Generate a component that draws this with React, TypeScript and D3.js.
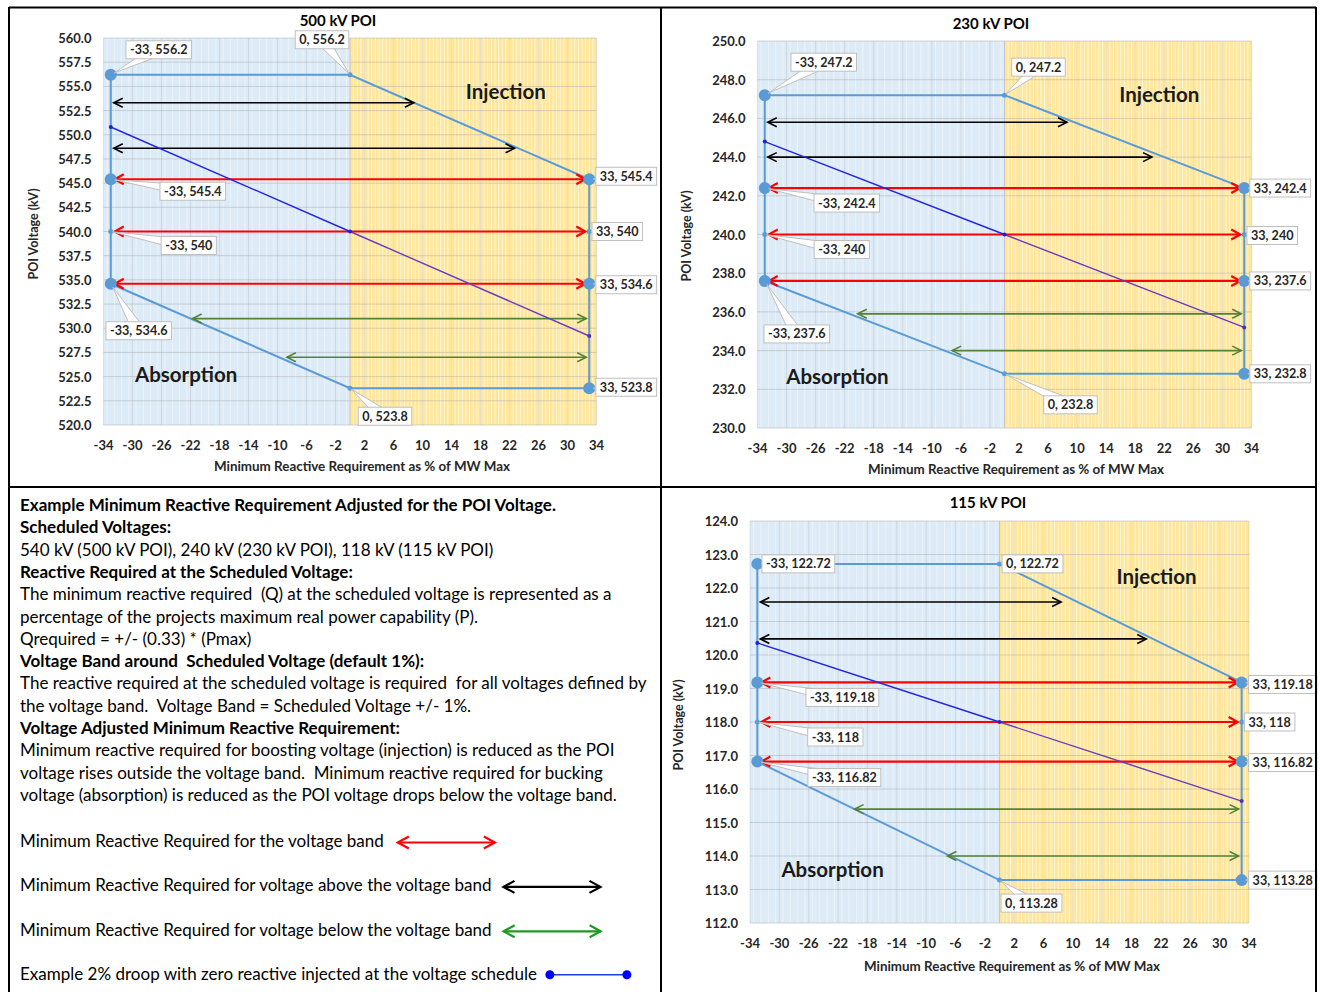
import React, { useEffect, useRef } from 'react';
import * as d3 from 'd3';

const W = 1320;
const H = 992;
const FONT = 'Lato, "Open Sans", sans-serif';

// shared x axis (Q as % of MW max)
const qTicks = [-34, -30, -26, -22, -18, -14, -10, -6, -2, 2, 6, 10, 14, 18, 22, 26, 30, 34];

// ---- 500 kV POI ----
const v500Ticks = [520, 522.5, 525, 527.5, 530, 532.5, 535, 537.5, 540, 542.5, 545, 547.5, 550, 552.5, 555, 557.5, 560];
const env500: [number, number][] = [[-33, 556.2], [0, 556.2], [33, 545.4], [33, 523.8], [0, 523.8], [-33, 534.6], [-33, 556.2]];
const pts500: [number, number][] = [[-33, 556.2], [0, 556.2], [-33, 545.4], [-33, 540], [-33, 534.6], [33, 545.4], [33, 540], [33, 534.6], [33, 523.8], [0, 523.8]];
const band500 = [545.4, 540, 534.6];
const above500: [number, number][] = [[553.3, 8.8], [548.6, 22.7]];
const below500: [number, number][] = [[531.0, -21.7], [527.0, -8.7]];
const droop500: [number, number][] = [[-33, 550.8], [0, 540], [33, 529.2]];

// ---- 230 kV POI ----
const v230Ticks = [230, 232, 234, 236, 238, 240, 242, 244, 246, 248, 250];
const env230: [number, number][] = [[-33, 247.2], [0, 247.2], [33, 242.4], [33, 232.8], [0, 232.8], [-33, 237.6], [-33, 247.2]];
const pts230: [number, number][] = [[-33, 247.2], [0, 247.2], [-33, 242.4], [-33, 240], [-33, 237.6], [33, 242.4], [33, 240], [33, 237.6], [33, 232.8], [0, 232.8]];
const band230 = [242.4, 240, 237.6];
const above230: [number, number][] = [[245.8, 8.6], [244.0, 20.3]];
const below230: [number, number][] = [[235.9, -20.2], [234.0, -7.2]];
const droop230: [number, number][] = [[-33, 244.8], [0, 240], [33, 235.2]];

// ---- 115 kV POI ----
const v115Ticks = [112, 113, 114, 115, 116, 117, 118, 119, 120, 121, 122, 123, 124];
const env115: [number, number][] = [[-33, 122.72], [0, 122.72], [33, 119.18], [33, 113.28], [0, 113.28], [-33, 116.82], [-33, 122.72]];
const pts115: [number, number][] = [[-33, 122.72], [0, 122.72], [-33, 119.18], [-33, 118], [-33, 116.82], [33, 119.18], [33, 118], [33, 116.82], [33, 113.28], [0, 113.28]];
const band115 = [119.18, 118, 116.82];
const above115: [number, number][] = [[121.58, 8.4], [120.48, 20.0]];
const below115: [number, number][] = [[115.4, -19.75], [114.0, -7.1]];
const droop115: [number, number][] = [[-33, 120.36], [0, 118], [33, 115.64]];

const notes: [string, boolean][] = [
  ['Example Minimum Reactive Requirement Adjusted for the POI Voltage.', true],
  ['Scheduled Voltages:', true],
  ['540 kV (500 kV POI), 240 kV (230 kV POI), 118 kV (115 kV POI)', false],
  ['Reactive Required at the Scheduled Voltage:', true],
  ['The minimum reactive required  (Q) at the scheduled voltage is represented as a', false],
  ['percentage of the projects maximum real power capability (P).', false],
  ['Qrequired = +/- (0.33) * (Pmax)', false],
  ['Voltage Band around  Scheduled Voltage (default 1%):', true],
  ['The reactive required at the scheduled voltage is required  for all voltages defined by', false],
  ['the voltage band.  Voltage Band = Scheduled Voltage +/- 1%.', false],
  ['Voltage Adjusted Minimum Reactive Requirement:', true],
  ['Minimum reactive required for boosting voltage (injection) is reduced as the POI', false],
  ['voltage rises outside the voltage band.  Minimum reactive required for bucking', false],
  ['voltage (absorption) is reduced as the POI voltage drops below the voltage band.', false],
];

const legendItems = [
  { text: 'Minimum Reactive Required for the voltage band', kind: 'band' },
  { text: 'Minimum Reactive Required for voltage above the voltage band', kind: 'above' },
  { text: 'Minimum Reactive Required for voltage below the voltage band', kind: 'below' },
  { text: 'Example 2% droop with zero reactive injected at the voltage schedule', kind: 'droop' },
];

// layout of each panel (pixels) + annotation anchors
const charts = [
  {
    title: '500 kV POI', sched: 540, ticks: v500Ticks, env: env500, pts: pts500, band: band500, above: above500, below: below500, droop: droop500,
    px: [103.5, 596.5], py: [425, 38], titleAt: [338, 20], yTitleAt: [33, 234], xTitleAt: [362, 466],
    inj: [21.5, 554.5], abs: [-22.6, 525.3],
    callouts: [[48, -25], [-28, -35], [82, 12], [78, 14], [28, 47], [37, -3], [28, 0], [37, 1], [37, -1], [35, 28]],
  },
  {
    title: '230 kV POI', sched: 240, ticks: v230Ticks, env: env230, pts: pts230, band: band230, above: above230, below: below230, droop: droop230,
    px: [757.5, 1251.5], py: [428, 41], titleAt: [991, 23], yTitleAt: [686, 236], xTitleAt: [1016, 469],
    inj: [21.3, 247.26], abs: [-23, 232.7],
    callouts: [[59, -33], [34, -28], [82, 15], [77, 15], [32, 53], [36, 0], [28, 1], [36, 0], [36, 0], [66, 31]],
  },
  {
    title: '115 kV POI', sched: 118, ticks: v115Ticks, env: env115, pts: pts115, band: band115, above: above115, below: below115, droop: droop115,
    px: [750, 1249], py: [923, 521], titleAt: [988, 502], yTitleAt: [678, 725], xTitleAt: [1012, 966],
    inj: [21.4, 122.36], abs: [-22.75, 113.6],
    callouts: [[41, 0], [33, 0], [85, 15], [78, 15], [87, 16], [41, 2], [28, 0], [41, 1], [41, 0], [32, 23]],
  },
];

function arrow(g: any, xa: number, xb: number, yv: number, color: string, sw: number, headA: boolean, headB: boolean, len: number, half: number) {
  g.append('line').attr('x1', xa).attr('x2', xb).attr('y1', yv).attr('y2', yv)
    .attr('stroke', color).attr('stroke-width', sw);
  const head = (tx: number, dir: number) => g.append('path')
    .attr('d', `M${tx + dir * len},${yv - half}L${tx},${yv}L${tx + dir * len},${yv + half}`)
    .attr('fill', 'none').attr('stroke', color).attr('stroke-width', sw);
  if (headA) head(xa, 1);
  if (headB) head(xb, -1);
}

function drawChart(svg: any, c: any) {
  const x = d3.scaleLinear().domain([-34, 34]).range(c.px);
  const y = d3.scaleLinear().domain([c.ticks[0], c.ticks[c.ticks.length - 1]]).range(c.py);
  const g = svg.append('g');
  const [x0, x1] = c.px;
  const top = c.py[1], bot = c.py[0];

  // shaded regions
  g.append('rect').attr('x', x0).attr('y', top).attr('width', x(0) - x0).attr('height', bot - top).attr('fill', '#DDEBF7');
  g.append('rect').attr('x', x(0)).attr('y', top).attr('width', x1 - x(0)).attr('height', bot - top).attr('fill', '#FFE699');

  g.selectAll('.sb').data(d3.range(-33.5, 0, 1)).enter().append('line')
    .attr('x1', (d: number) => x(d)).attr('x2', (d: number) => x(d)).attr('y1', top).attr('y2', bot)
    .attr('stroke', '#fff').attr('stroke-opacity', 0.45).attr('stroke-width', 1);
  g.selectAll('.sy').data(d3.range(0.5, 34, 0.5)).enter().append('line')
    .attr('x1', (d: number) => x(d)).attr('x2', (d: number) => x(d)).attr('y1', top).attr('y2', bot)
    .attr('stroke', '#fff').attr('stroke-opacity', 0.65).attr('stroke-width', 1);

  // gridlines
  g.selectAll('.gv').data(qTicks).enter().append('line')
    .attr('x1', (d: number) => x(d)).attr('x2', (d: number) => x(d)).attr('y1', top).attr('y2', bot)
    .attr('stroke', '#B0B8C0').attr('stroke-opacity', 0.35);
  g.selectAll('.gh').data(c.ticks).enter().append('line')
    .attr('x1', x0).attr('x2', x1).attr('y1', (d: number) => y(d)).attr('y2', (d: number) => y(d))
    .attr('stroke', '#A6A6A6').attr('stroke-opacity', 0.45);
  g.append('line').attr('x1', x(0)).attr('x2', x(0)).attr('y1', top).attr('y2', bot)
    .attr('stroke', '#C8C8C8').attr('stroke-width', 1);

  // axes labels
  g.selectAll('.yt').data(c.ticks).enter().append('text')
    .attr('x', x0 - 12).attr('y', (d: number) => y(d)).attr('text-anchor', 'end').attr('dominant-baseline', 'central')
    .attr('font-family', FONT).attr('font-weight', 700).attr('font-size', 13).attr('fill', '#262626')
    .text((d: number) => d.toFixed(1));
  g.selectAll('.xt').data(qTicks).enter().append('text')
    .attr('x', (d: number) => x(d)).attr('y', bot + 20).attr('text-anchor', 'middle').attr('dominant-baseline', 'central')
    .attr('font-family', FONT).attr('font-weight', 700).attr('font-size', 13).attr('fill', '#262626')
    .text((d: number) => String(d));
  g.append('text').attr('x', c.titleAt[0]).attr('y', c.titleAt[1]).attr('text-anchor', 'middle').attr('dominant-baseline', 'central')
    .attr('font-family', FONT).attr('font-weight', 700).attr('font-size', 15).attr('fill', '#000').text(c.title);
  g.append('text').attr('transform', `translate(${c.yTitleAt[0]},${c.yTitleAt[1]}) rotate(-90)`)
    .attr('text-anchor', 'middle').attr('dominant-baseline', 'central')
    .attr('font-family', FONT).attr('font-weight', 700).attr('font-size', 12.5).attr('fill', '#262626').text('POI Voltage (kV)');
  g.append('text').attr('x', c.xTitleAt[0]).attr('y', c.xTitleAt[1]).attr('text-anchor', 'middle').attr('dominant-baseline', 'central')
    .attr('font-family', FONT).attr('font-weight', 700).attr('font-size', 13.4).attr('fill', '#262626')
    .text('Minimum Reactive Requirement as % of MW Max');

  // envelope
  const line = d3.line<[number, number]>().x(d => x(d[0])).y(d => y(d[1]));
  g.append('path').attr('d', line(c.env)).attr('fill', 'none').attr('stroke', '#5B9BD5').attr('stroke-width', 2);

  // arrows
  c.band.forEach((v: number) => arrow(g, x(-33) + 4, x(33) - 4, y(v), '#FF0000', 2.2, true, true, 9, 5));
  c.above.forEach(([v, q]: [number, number]) => arrow(g, x(-33) + 3, x(q), y(v), '#000', 1.6, true, true, 9, 4.5));
  c.below.forEach(([v, q]: [number, number]) => arrow(g, x(q), x(33) - 3, y(v), '#548235', 1.6, true, true, 9, 4.5));

  // droop
  const dr = c.droop;
  g.append('line').attr('x1', x(dr[0][0])).attr('y1', y(dr[0][1])).attr('x2', x(dr[1][0])).attr('y2', y(dr[1][1]))
    .attr('stroke', '#2525E0').attr('stroke-width', 1.4);
  g.append('line').attr('x1', x(dr[1][0])).attr('y1', y(dr[1][1])).attr('x2', x(dr[2][0])).attr('y2', y(dr[2][1]))
    .attr('stroke', '#6A3CBC').attr('stroke-width', 1.4);
  g.selectAll('.dm').data(dr).enter().append('circle')
    .attr('cx', (d: number[]) => x(d[0])).attr('cy', (d: number[]) => y(d[1])).attr('r', 2)
    .attr('fill', (d: number[]) => (d[0] > 0 ? '#5030B0' : '#2020D0'));

  // markers
  const big = (d: number[]) => Math.abs(d[0]) === 33 && d[1] !== c.sched;
  g.selectAll('.mk').data(c.pts).enter().append('circle')
    .attr('cx', (d: number[]) => x(d[0])).attr('cy', (d: number[]) => y(d[1]))
    .attr('r', (d: number[]) => (big(d) ? 6 : 2.5)).attr('fill', '#5B9BD5');

  // callouts
  c.pts.forEach((d: [number, number], i: number) => {
    const [dx, dy] = c.callouts[i];
    const px = x(d[0]), py = y(d[1]);
    const bx = px + dx, by = py + dy;
    const cg = g.append('g');
    const dist = Math.hypot(dx, dy);
    if (dist > 1) {
      const ux = dx / dist, uy = dy / dist;
      const nx = -uy, ny = ux;
      const r = big(d) ? 4 : 1.5;
      cg.append('path')
        .attr('d', `M${bx + nx * 6},${by + ny * 6}L${px + ux * r},${py + uy * r}L${bx - nx * 6},${by - ny * 6}Z`)
        .attr('fill', '#fff').attr('stroke', '#BFBFBF').attr('stroke-width', 1);
    }
    const rect = cg.append('rect').attr('fill', '#fff').attr('stroke', '#BFBFBF').attr('stroke-width', 1);
    const t = cg.append('text').attr('x', bx).attr('y', by).attr('text-anchor', 'middle').attr('dominant-baseline', 'central')
      .attr('font-family', FONT).attr('font-weight', 700).attr('font-size', 12.6).attr('fill', '#262626')
      .text(`${d[0]}, ${d[1]}`);
    const w = (t.node() as SVGTextElement).getComputedTextLength() + 8;
    rect.attr('x', bx - w / 2).attr('y', by - 9).attr('width', w).attr('height', 18);
  });

  // region labels
  g.append('text').attr('x', x(c.inj[0])).attr('y', y(c.inj[1])).attr('text-anchor', 'middle').attr('dominant-baseline', 'central')
    .attr('font-family', FONT).attr('font-weight', 700).attr('font-size', 20.5).attr('fill', '#1a1a1a').text('Injection');
  g.append('text').attr('x', x(c.abs[0])).attr('y', y(c.abs[1])).attr('text-anchor', 'middle').attr('dominant-baseline', 'central')
    .attr('font-family', FONT).attr('font-weight', 700).attr('font-size', 20.5).attr('fill', '#1a1a1a').text('Absorption');
}

function drawNotes(svg: any) {
  const g = svg.append('g');
  const left = 20;
  const mk = (s: string, bold: boolean) => g.append('text')
    .attr('x', 0).attr('y', 0).attr('font-family', FONT).attr('font-size', 16.5)
    .attr('font-weight', bold ? 700 : 400).attr('fill', '#000').style('white-space', 'pre').text(s);

  // horizontal condense so the text matches the narrow original face
  const probe = mk(notes[8][0], false);
  const sx = 627 / (probe.node() as SVGTextElement).getComputedTextLength();
  probe.remove();

  notes.forEach(([s, bold], i) => {
    mk(s, bold).attr('transform', `translate(${left},${511 + i * 22.3}) scale(${sx},1)`);
  });

  legendItems.forEach((it, i) => {
    const base = 847 + i * 44.4;
    const t = mk(it.text, false);
    t.attr('transform', `translate(${left},${base}) scale(${sx},1)`);
    const end = left + (t.node() as SVGTextElement).getComputedTextLength() * sx;
    const ay = base - 4.5;
    if (it.kind === 'band') arrow(g, end + 14, end + 111, ay, '#FF0000', 2.2, true, true, 11, 6);
    if (it.kind === 'above') arrow(g, end + 12, end + 109, ay, '#000', 2.2, true, true, 11, 6);
    if (it.kind === 'below') arrow(g, end + 12, end + 109, ay, '#1E9A1E', 2.2, true, true, 11, 6);
    if (it.kind === 'droop') {
      g.append('line').attr('x1', end + 13).attr('x2', end + 90).attr('y1', ay - 1).attr('y2', ay - 1)
        .attr('stroke', '#1F3FE0').attr('stroke-width', 1.6);
      [end + 13, end + 90].forEach(cx => g.append('circle').attr('cx', cx).attr('cy', ay - 1).attr('r', 4.5).attr('fill', '#0000FF'));
    }
  });
}

function drawFrames(svg: any) {
  const segs = [
    [9, 7.5, 1316, 7.5], [9, 7, 9, 992], [1316, 7, 1316, 992], [661, 7, 661, 992], [9, 487, 1316, 487],
  ];
  svg.selectAll('.fr').data(segs).enter().append('line')
    .attr('x1', (d: number[]) => d[0]).attr('y1', (d: number[]) => d[1]).attr('x2', (d: number[]) => d[2]).attr('y2', (d: number[]) => d[3])
    .attr('stroke', '#000').attr('stroke-width', 2);
}

export default function App() {
  const ref = useRef<SVGSVGElement | null>(null);
  useEffect(() => {
    if (!ref.current) return;
    const svg = d3.select(ref.current);
    svg.selectAll('*').remove();
    svg.append('rect').attr('width', W).attr('height', H).attr('fill', '#fff');
    charts.forEach(c => drawChart(svg, c));
    drawNotes(svg);
    drawFrames(svg);
  }, []);
  return <svg ref={ref} width={W} height={H} style={{ position: 'absolute', left: 0, top: 0, display: 'block' }} />;
}
